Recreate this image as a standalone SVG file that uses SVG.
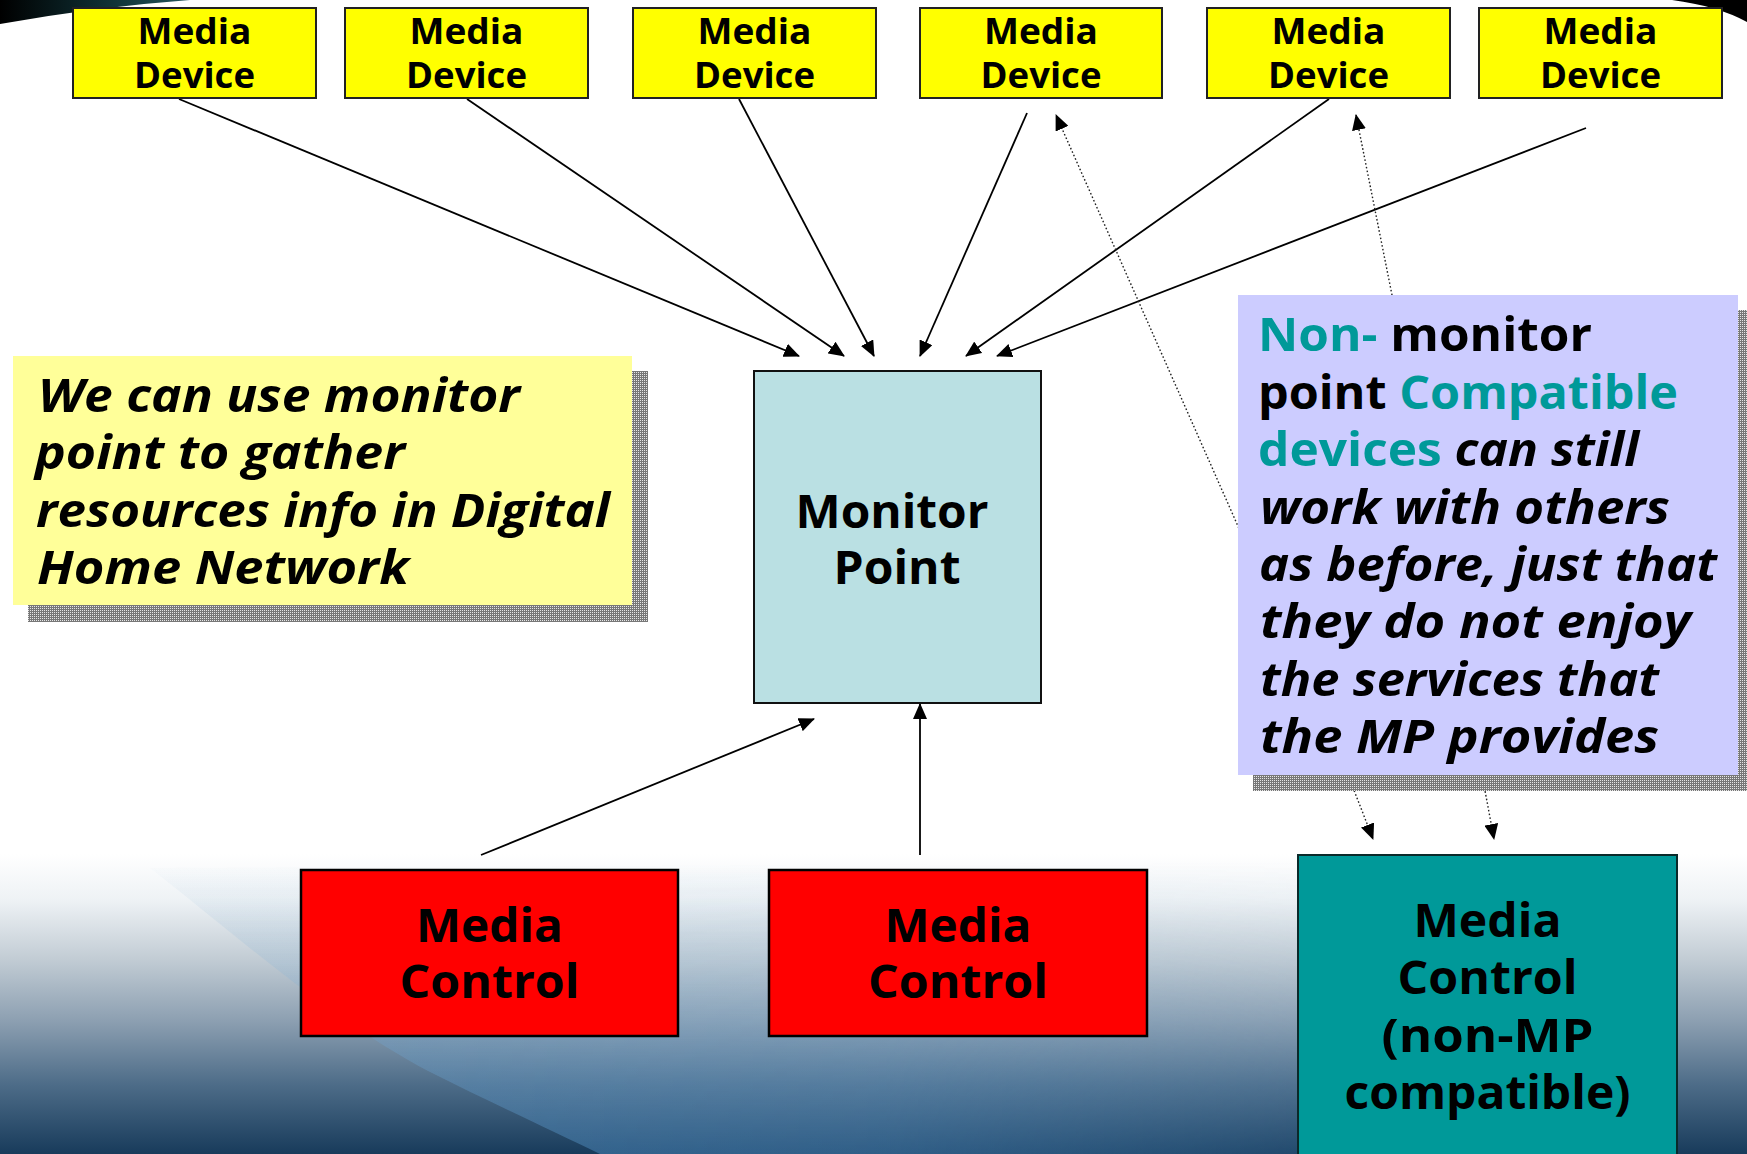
<svg xmlns="http://www.w3.org/2000/svg" width="1747" height="1154" viewBox="0 0 1747 1154">
  <defs>
    <style>
      .lbl { font-family: "Open Sans", "Noto Sans", "DejaVu Sans", sans-serif; font-weight: bold; fill: #000; text-anchor: middle; }
      .dev { font-size: 36.5px; }
      .big { font-size: 46.5px; }
      .note { font-family: "Open Sans", "Noto Sans", "DejaVu Sans", sans-serif; font-weight: bold; font-size: 47px; fill: #000; }
      .up { font-style: normal; }
      .it { font-style: italic; }
      .teal { fill: #009999; }
      .device { fill: #ffff00; stroke: #222; stroke-width: 2; }
      .ctrl { fill: #ff0000; stroke: #000; stroke-width: 2.5; }
      .wire { fill: none; stroke: #000; stroke-width: 1.8; marker-end: url(#head); }
      .dots { fill: none; stroke: #222; stroke-width: 1.4; stroke-dasharray: 1.6 2.2; marker-end: url(#head); }
    </style>
    <marker id="head" viewBox="0 0 16 14" refX="15" refY="7" markerWidth="16" markerHeight="14" markerUnits="userSpaceOnUse" orient="auto">
      <path d="M0,0 L16,7 L0,14 Z" fill="#000"/>
    </marker>
    <pattern id="dither" width="2" height="2" patternUnits="userSpaceOnUse">
      <rect width="2" height="2" fill="#777"/>
      <rect width="1" height="1" fill="#e6e6e6"/>
    </pattern>
    <linearGradient id="sky" x1="0" y1="0" x2="0" y2="1154" gradientUnits="userSpaceOnUse">
      <stop offset="0" stop-color="#ffffff"/>
      <stop offset="0.74" stop-color="#ffffff"/>
      <stop offset="0.78" stop-color="#eef2f5"/>
      <stop offset="0.83" stop-color="#c3cdd5"/>
      <stop offset="0.885" stop-color="#8c9fb1"/>
      <stop offset="0.94" stop-color="#4d6c88"/>
      <stop offset="1" stop-color="#183b5b"/>
    </linearGradient>
    <linearGradient id="glow" x1="0" y1="860" x2="0" y2="1154" gradientUnits="userSpaceOnUse">
      <stop offset="0" stop-color="#7fb0d6" stop-opacity="0"/>
      <stop offset="0.35" stop-color="#8ab6d8" stop-opacity="0.22"/>
      <stop offset="1" stop-color="#4f8cc0" stop-opacity="0.55"/>
    </linearGradient>
    <linearGradient id="fade" x1="300" y1="0" x2="1600" y2="0" gradientUnits="userSpaceOnUse">
      <stop offset="0" stop-color="#fff"/>
      <stop offset="0.45" stop-color="#fff" stop-opacity="0.8"/>
      <stop offset="1" stop-color="#fff" stop-opacity="0"/>
    </linearGradient>
    <mask id="fadeMask" maskUnits="userSpaceOnUse" x="0" y="0" width="1747" height="1154">
      <rect x="0" y="0" width="1747" height="1154" fill="url(#fade)"/>
    </mask>
    <linearGradient id="swoosh" x1="0" y1="0" x2="1" y2="0">
      <stop offset="0" stop-color="#000"/>
      <stop offset="0.5" stop-color="#0d2a2e"/>
      <stop offset="1" stop-color="#24575c"/>
    </linearGradient>
  </defs>

  <!-- backdrop -->
  <rect x="0" y="0" width="1747" height="1154" fill="url(#sky)"/>
  <path d="M150,868 C230,930 330,1020 430,1072 C490,1102 550,1130 600,1154 L1747,1154 L1747,860 Z" fill="url(#glow)" mask="url(#fadeMask)"/>
  <path d="M0,0 L190,0 Q95,7 0,24 Z" fill="url(#swoosh)"/>
  <path d="M1672,0 L1747,0 L1747,22 Q1718,6 1672,0 Z" fill="#000"/>

  <!-- connectors -->
  <g id="connectors">
    <line class="wire" x1="179" y1="99" x2="799" y2="356"/>
    <line class="wire" x1="467" y1="99" x2="844" y2="356"/>
    <line class="wire" x1="739" y1="99" x2="874" y2="356"/>
    <line class="wire" x1="1027" y1="113" x2="920" y2="356"/>
    <line class="wire" x1="1329" y1="99" x2="966" y2="356"/>
    <line class="wire" x1="1586" y1="128" x2="997" y2="356"/>
    <line class="wire" x1="481" y1="855" x2="814" y2="719"/>
    <line class="wire" x1="920" y1="855" x2="920" y2="704"/>
    <line class="dots" x1="1245" y1="542" x2="1056" y2="115"/>
    <line class="dots" x1="1395" y1="310" x2="1356" y2="115"/>
    <line class="dots" x1="1350" y1="780" x2="1373" y2="839"/>
    <line class="dots" x1="1483" y1="780" x2="1494" y2="839"/>
  </g>

  <!-- media devices -->
  <g id="device-1">
    <rect class="device" x="73" y="8" width="243" height="90"/>
    <text class="lbl dev"><tspan x="194.5" y="44" textLength="114" lengthAdjust="spacingAndGlyphs">Media</tspan><tspan x="194.5" y="88" textLength="121" lengthAdjust="spacingAndGlyphs">Device</tspan></text>
  </g>
  <g id="device-2">
    <rect class="device" x="345" y="8" width="243" height="90"/>
    <text class="lbl dev"><tspan x="466.5" y="44" textLength="114" lengthAdjust="spacingAndGlyphs">Media</tspan><tspan x="466.5" y="88" textLength="121" lengthAdjust="spacingAndGlyphs">Device</tspan></text>
  </g>
  <g id="device-3">
    <rect class="device" x="633" y="8" width="243" height="90"/>
    <text class="lbl dev"><tspan x="754.5" y="44" textLength="114" lengthAdjust="spacingAndGlyphs">Media</tspan><tspan x="754.5" y="88" textLength="121" lengthAdjust="spacingAndGlyphs">Device</tspan></text>
  </g>
  <g id="device-4">
    <rect class="device" x="920" y="8" width="242" height="90"/>
    <text class="lbl dev"><tspan x="1041" y="44" textLength="114" lengthAdjust="spacingAndGlyphs">Media</tspan><tspan x="1041" y="88" textLength="121" lengthAdjust="spacingAndGlyphs">Device</tspan></text>
  </g>
  <g id="device-5">
    <rect class="device" x="1207" y="8" width="243" height="90"/>
    <text class="lbl dev"><tspan x="1328.5" y="44" textLength="114" lengthAdjust="spacingAndGlyphs">Media</tspan><tspan x="1328.5" y="88" textLength="121" lengthAdjust="spacingAndGlyphs">Device</tspan></text>
  </g>
  <g id="device-6">
    <rect class="device" x="1479" y="8" width="243" height="90"/>
    <text class="lbl dev"><tspan x="1600.5" y="44" textLength="114" lengthAdjust="spacingAndGlyphs">Media</tspan><tspan x="1600.5" y="88" textLength="121" lengthAdjust="spacingAndGlyphs">Device</tspan></text>
  </g>

  <!-- monitor point -->
  <g id="monitor-point">
    <rect x="754" y="371" width="287" height="332" fill="#bae0e3" stroke="#111" stroke-width="2"/>
    <text class="lbl big"><tspan x="892" y="528" textLength="193" lengthAdjust="spacingAndGlyphs">Monitor</tspan><tspan x="897" y="584" textLength="127" lengthAdjust="spacingAndGlyphs">Point</tspan></text>
  </g>

  <!-- media controls -->
  <g id="control-1">
    <rect class="ctrl" x="301" y="870" width="377" height="166"/>
    <text class="lbl big"><tspan x="489.5" y="942" textLength="147" lengthAdjust="spacingAndGlyphs">Media</tspan><tspan x="489.5" y="998" textLength="180" lengthAdjust="spacingAndGlyphs">Control</tspan></text>
  </g>
  <g id="control-2">
    <rect class="ctrl" x="769" y="870" width="378" height="166"/>
    <text class="lbl big"><tspan x="958" y="942" textLength="147" lengthAdjust="spacingAndGlyphs">Media</tspan><tspan x="958" y="998" textLength="180" lengthAdjust="spacingAndGlyphs">Control</tspan></text>
  </g>
  <g id="control-legacy">
    <rect x="1298" y="855" width="379" height="320" fill="#009999" stroke="#0a2a2a" stroke-width="2"/>
    <text class="lbl big"><tspan x="1487.5" y="937" textLength="148" lengthAdjust="spacingAndGlyphs">Media</tspan><tspan x="1487.5" y="994" textLength="180" lengthAdjust="spacingAndGlyphs">Control</tspan><tspan x="1487.5" y="1052" textLength="212" lengthAdjust="spacingAndGlyphs">(non-MP</tspan><tspan x="1487.5" y="1109" textLength="286" lengthAdjust="spacingAndGlyphs">compatible)</tspan></text>
  </g>

  <!-- explanatory notes -->
  <g id="note-left">
    <rect x="28" y="371" width="620" height="251" fill="url(#dither)"/>
    <rect x="13" y="356" width="619" height="249" fill="#ffff99"/>
    <text class="note it"><tspan x="38" y="412" textLength="482" lengthAdjust="spacingAndGlyphs">We can use monitor</tspan><tspan x="35" y="469" textLength="370" lengthAdjust="spacingAndGlyphs">point to gather</tspan><tspan x="36" y="527" textLength="574" lengthAdjust="spacingAndGlyphs">resources info in Digital</tspan><tspan x="37" y="584" textLength="372" lengthAdjust="spacingAndGlyphs">Home Network</tspan></text>
  </g>
  <g id="note-right">
    <rect x="1253" y="310" width="500" height="481" fill="url(#dither)"/>
    <rect x="1238" y="295" width="500" height="480" fill="#ccccff"/>
    <text class="note"><tspan class="up" x="1258" y="351" textLength="334" lengthAdjust="spacingAndGlyphs"><tspan class="teal">Non-</tspan> monitor</tspan><tspan class="up" x="1258" y="409" textLength="420" lengthAdjust="spacingAndGlyphs">point <tspan class="teal">Compatible</tspan></tspan><tspan class="up" x="1258" y="466" textLength="381" lengthAdjust="spacingAndGlyphs"><tspan class="teal">devices</tspan> <tspan class="it">can still</tspan></tspan><tspan class="it" x="1260" y="524" textLength="410" lengthAdjust="spacingAndGlyphs">work with others</tspan><tspan class="it" x="1259" y="581" textLength="458" lengthAdjust="spacingAndGlyphs">as before, just that</tspan><tspan class="it" x="1260" y="638" textLength="431" lengthAdjust="spacingAndGlyphs">they do not enjoy</tspan><tspan class="it" x="1260" y="696" textLength="399" lengthAdjust="spacingAndGlyphs">the services that</tspan><tspan class="it" x="1260" y="753" textLength="399" lengthAdjust="spacingAndGlyphs">the MP provides</tspan></text>
  </g>
</svg>
